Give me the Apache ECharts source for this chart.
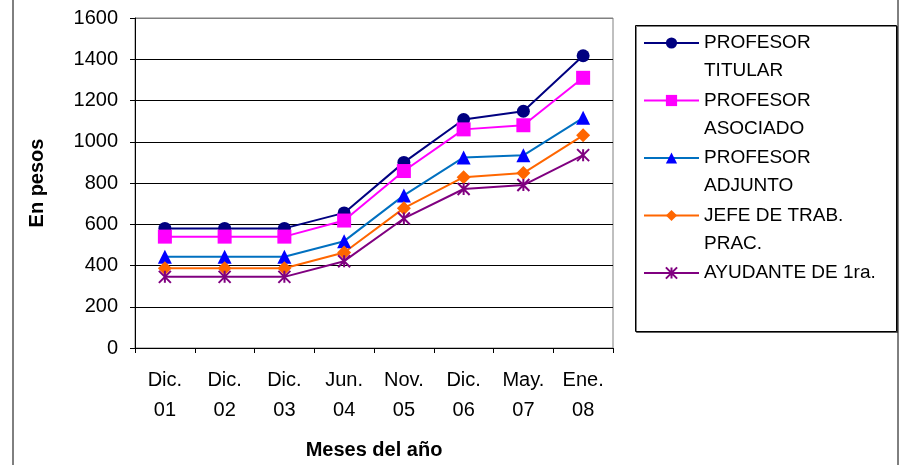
<!DOCTYPE html>
<html><head><meta charset="utf-8">
<script src="https://cdn.jsdelivr.net/npm/echarts@6/dist/echarts.min.js"></script>
<style>html,body{margin:0;padding:0;background:#fff;}#c{width:901px;height:465px;}</style>
</head><body><div id="c"></div>
<script>
const categories = ['Dic.\n01','Dic.\n02','Dic.\n03','Jun.\n04','Nov.\n05','Dic.\n06','May.\n07','Ene.\n08'];
const seriesNames = ['PROFESOR TITULAR','PROFESOR ASOCIADO','PROFESOR ADJUNTO','JEFE DE TRAB. PRAC.','AYUDANTE DE 1ra.'];
const legendLabels = ['PROFESOR\nTITULAR','PROFESOR\nASOCIADO','PROFESOR\nADJUNTO','JEFE DE TRAB.\nPRAC.','AYUDANTE DE 1ra.\n '];
const titular  = [580, 580, 580, 655, 900, 1108, 1148, 1417];
const asociado = [540, 540, 540, 618, 858, 1060, 1080, 1310];
const adjunto  = [442, 442, 442, 518, 740, 924, 934, 1116];
const jefe     = [387, 387, 387, 463, 678, 828, 848, 1031];
const ayudante = [345, 345, 345, 421, 628, 771, 790, 935];
const yTicks = [0,200,400,600,800,1000,1200,1400,1600];

const FONT = '"Liberation Sans", Arial, sans-serif';
const chart = echarts.init(document.getElementById('c'), null, {renderer:'canvas'});
const star = 'path://M0,0L10,10M10,0L0,10M5,0L5,10';
const styles = [
  {line:'#000080', mk:'#000080', sym:'circle', size:13},
  {line:'#FF00FF', mk:'#FF00FF', sym:'rect', size:14},
  {line:'#0070C0', mk:'#0000FF', sym:'triangle', size:14},
  {line:'#FF6600', mk:'#FF6600', sym:'diamond', size:14},
  {line:'#800080', mk:'#800080', sym:star, size:12}
];
const datas = [titular, asociado, adjunto, jefe, ayudante];

const series = datas.map((d,i)=>{
  const s = styles[i];
  const isStar = i===4;
  return {
    name: seriesNames[i], type:'line', data:d,
    symbol:s.sym, symbolSize:s.size, showAllSymbol:true,
    lineStyle:{color:s.line, width:2},
    itemStyle: isStar ? {color:'none', borderColor:s.mk, borderWidth:2} : {color:s.mk, borderColor:s.mk, borderWidth:0},
    emphasis:{disabled:true}, animation:false
  };
});

const option = {
  animation:false,
  textStyle:{fontFamily:FONT},
  grid:{left:135, right:288, top:18, bottom:115, show:true, borderColor:'#808080', borderWidth:1},
  xAxis:{
    type:'category', data:categories, boundaryGap:true,
    axisLine:{lineStyle:{color:'#000', width:1}},
    axisTick:{show:true, length:5, interval:0, lineStyle:{color:'#000'}},
    axisLabel:{color:'#000', fontSize:20, lineHeight:30, margin:17, fontFamily:FONT, interval:0},
    name:'Meses del año', nameLocation:'middle', nameGap:92,
    nameTextStyle:{color:'#000', fontSize:20, fontWeight:'bold', fontFamily:FONT}
  },
  yAxis:{
    type:'value', min:yTicks[0], max:yTicks[yTicks.length-1], interval:200,
    axisLine:{show:true, lineStyle:{color:'#000', width:1}},
    axisTick:{show:true, length:5, lineStyle:{color:'#000'}},
    axisLabel:{color:'#000', fontSize:20, margin:17, fontFamily:FONT, formatter:(v)=>String(v)},
    splitLine:{show:true, lineStyle:{color:['#000','#000','#000','#000','#000','#000','#000','#000','#808080'], width:1}},
    name:'En pesos', nameLocation:'middle', nameGap:88,
    nameTextStyle:{color:'#000', fontSize:20, fontWeight:'bold', fontFamily:FONT}
  },
  legend:{
    orient:'vertical', left:643, top:1, padding:0, itemGap:-26.5,
    itemWidth:55, itemHeight:14,
    formatter:(n)=>'\n'+legendLabels[seriesNames.indexOf(n)],
    textStyle:{color:'#000', fontSize:19, lineHeight:28, fontFamily:FONT},
    data: seriesNames,
    selectedMode:false
  },
  graphic:[
    {type:'rect', shape:{x:13, y:-5, width:885, height:480}, style:{fill:'none', stroke:'#000', lineWidth:1}, silent:true, z:-1},
    {type:'rect', shape:{x:635.5, y:25.5, width:261, height:306}, style:{fill:'#fff', stroke:'#000', lineWidth:1, shadowColor:'rgba(0,0,0,0.5)', shadowOffsetX:1, shadowOffsetY:1, shadowBlur:0}, silent:true, z:-1}
  ],
  series
};
chart.setOption(option);
</script></body></html>
